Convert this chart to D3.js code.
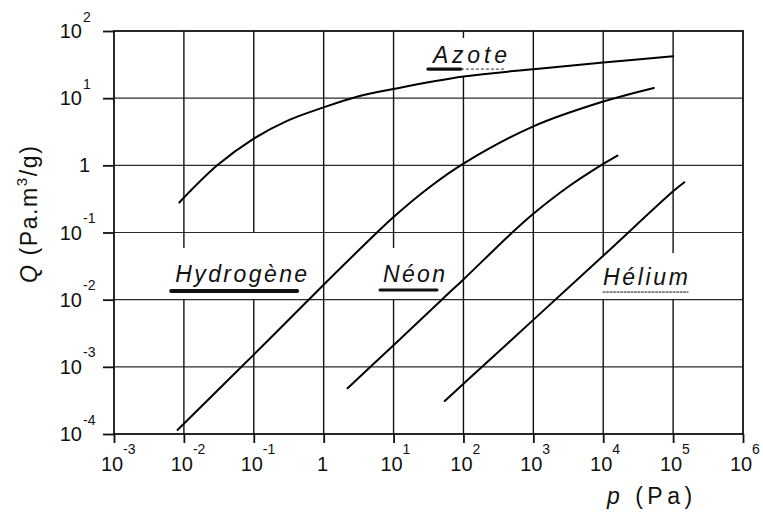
<!DOCTYPE html>
<html>
<head>
<meta charset="utf-8">
<script src="https://cdn.jsdelivr.net/npm/d3@7"></script>
<style>
  body { margin: 0; background: #fff; }
  svg { display: block; font-family: "Liberation Sans", Arial, sans-serif; }
</style>
</head>
<body>
<svg id="chart" width="763" height="516"></svg>
<script>
// decades shown on each axis (exponents of 10)
const xTickExp = [-3, -2, -1, 0, 1, 2, 3, 4, 5, 6];
const yTickExp = [-4, -3, -2, -1, 0, 1, 2];

const azoteP = [0.0086, 0.03, 0.1, 0.3, 1, 3, 10, 100, 1000, 1e4, 1e5];
const azoteQ = [0.28, 1.0, 2.5, 4.6, 7.3, 10.5, 13.7, 21, 27, 34, 42];

const hydrogeneP = [0.0081, 0.1, 1, 5.8, 10, 31.6, 100, 1000, 1e4, 5.3e4];
const hydrogeneQ = [1.15e-4, 1.52e-3, 0.0167, 0.1, 0.17, 0.46, 1.06, 3.8, 8.9, 14.2];

const neonP = [2.2, 10, 49, 100, 500, 1000, 3162, 1e4, 1.6e4];
const neonQ = [4.8e-4, 2.1e-3, 0.01, 0.02, 0.1, 0.19, 0.48, 1.05, 1.4];

const heliumP = [54, 100, 1000, 1e4, 1e5, 1.45e5];
const heliumQ = [3.1e-4, 5.6e-4, 5.0e-3, 0.045, 0.41, 0.56];

// gas names and where they are written (p, Q of the text baseline start)
const labelNames = ["Azote", "Hydrogène", "Néon", "Hélium"];
const labelP = [36.6, 0.0075, 7.06, 9930];
const labelQ = [33.3, 0.0183, 0.0183, 0.0165];

// the vertical grid lines are cut where the names sit : [p, Qlow, Qhigh]
const gridBreaks = [
  [1e-2, 1e-2, 0.0588],
  [1e-1, 1e-2, 1e-1],
  [1e1, 1e-2, 0.0588],
  [1e2, 21.4, 78.7],
  [1e4, 1e-2, 0.043],
  [1e5, 1e-2, 0.0495]
];

const width = 763;
const height = 516;
const plot = { left: 114, right: 743, top: 31, bottom: 434 };

const xTicks = xTickExp.map((e) => Math.pow(10, e));
const yTicks = yTickExp.map((e) => Math.pow(10, e));

const x = d3.scaleLog().domain([1e-3, 1e6]).range([plot.left, plot.right]);
const y = d3.scaleLog().domain([1e-4, 1e2]).range([plot.bottom, plot.top]);

const svg = d3.select('#chart');
svg.append('rect').attr('width', width).attr('height', height).attr('fill', '#fff');

// horizontal grid
svg.append('g')
  .selectAll('line')
  .data(yTicks.slice(1, -1))
  .join('line')
  .attr('x1', plot.left).attr('x2', plot.right)
  .attr('y1', (d) => y(d)).attr('y2', (d) => y(d))
  .attr('stroke', '#2a2a2a')
  .attr('stroke-width', 1.2);

// vertical grid, split in segments around the labels
const vSegments = [];
xTicks.slice(1, -1).forEach((p) => {
  const cuts = gridBreaks.filter((b) => b[0] === p);
  let top = y.domain()[1];
  cuts.sort((a, b) => b[2] - a[2]).forEach((b) => {
    vSegments.push([p, top, b[2]]);
    top = b[1];
  });
  vSegments.push([p, top, y.domain()[0]]);
});

svg.append('g')
  .selectAll('line')
  .data(vSegments)
  .join('line')
  .attr('x1', (d) => x(d[0])).attr('x2', (d) => x(d[0]))
  .attr('y1', (d) => y(d[1])).attr('y2', (d) => y(d[2]))
  .attr('stroke', '#111')
  .attr('stroke-width', 1.4);

// frame
svg.append('rect')
  .attr('x', plot.left).attr('y', plot.top)
  .attr('width', plot.right - plot.left)
  .attr('height', plot.bottom - plot.top)
  .attr('fill', 'none')
  .attr('stroke', '#111')
  .attr('stroke-width', 1.8);

// ticks only, labels are written by hand with superscripts
const xAxis = svg.append('g')
  .attr('transform', `translate(0,${plot.bottom})`)
  .call(d3.axisBottom(x).tickValues(xTicks).tickSize(9).tickSizeOuter(0).tickFormat(''));
const yAxis = svg.append('g')
  .attr('transform', `translate(${plot.left},0)`)
  .call(d3.axisLeft(y).tickValues(yTicks).tickSize(11).tickSizeOuter(0).tickFormat(''));
[xAxis, yAxis].forEach((g) => {
  g.select('.domain').remove();
  g.selectAll('.tick line').attr('stroke', '#111').attr('stroke-width', 1.8);
});

// x tick labels
const xLab = svg.append('g').attr('fill', '#111');
xTickExp.forEach((e, i) => {
  const px = x(xTicks[i]);
  if (e === 0) {
    xLab.append('text').attr('x', px - 1).attr('y', plot.bottom + 37)
      .attr('text-anchor', 'middle').attr('font-size', 20).text('1');
    return;
  }
  xLab.append('text').attr('x', px - 2).attr('y', plot.bottom + 37)
    .attr('text-anchor', 'middle').attr('font-size', 20).text('10');
  xLab.append('text').attr('x', px + 9).attr('y', plot.bottom + 20)
    .attr('font-size', 14).text(String(e));
});

// y tick labels
const yLab = svg.append('g').attr('fill', '#111');
yTickExp.forEach((e, i) => {
  const py = y(yTicks[i]);
  if (e === 0) {
    yLab.append('text').attr('x', 90).attr('y', py + 7)
      .attr('text-anchor', 'end').attr('font-size', 20).text('1');
    return;
  }
  yLab.append('text').attr('x', 82).attr('y', py + 7)
    .attr('text-anchor', 'end').attr('font-size', 20).text('10');
  yLab.append('text').attr('x', 83).attr('y', py - 9.5)
    .attr('font-size', 14).text(String(e));
});

// curves
const series = [
  { name: 'Azote', p: azoteP, q: azoteQ },
  { name: 'Hydrogène', p: hydrogeneP, q: hydrogeneQ },
  { name: 'Néon', p: neonP, q: neonQ },
  { name: 'Hélium', p: heliumP, q: heliumQ }
];
const line = d3.line()
  .x((d) => x(d[0]))
  .y((d) => y(d[1]))
  .curve(d3.curveCatmullRom.alpha(0.5));

svg.append('g')
  .selectAll('path')
  .data(series)
  .join('path')
  .attr('d', (s) => line(s.p.map((p, i) => [p, s.q[i]])))
  .attr('fill', 'none')
  .attr('stroke', '#000')
  .attr('stroke-width', 2)
  .attr('stroke-linecap', 'round');

// gas names, italic and spaced, with their inked underlines
const labelWidth = [74, 132, 62, 85];
const underline = [
  { dx0: -5, dx1: 28, dy: 6, w: 3.2, dash: null },
  { dx0: -4, dx1: 122, dy: 9, w: 4, dash: null },
  { dx0: -3, dx1: 54, dy: 8, w: 3, dash: null },
  { dx0: 0, dx1: 85, dy: 7, w: 1, dash: '2,1.5' }
];
const labels = svg.append('g').attr('fill', '#111');
labelNames.forEach((name, i) => {
  const lx = x(labelP[i]);
  const ly = y(labelQ[i]);
  labels.append('text')
    .attr('x', lx).attr('y', ly)
    .attr('font-size', 23)
    .attr('font-style', 'italic')
    .attr('textLength', labelWidth[i])
    .attr('lengthAdjust', 'spacing')
    .text(name);
  const u = underline[i];
  labels.append('line')
    .attr('x1', lx + u.dx0).attr('x2', lx + u.dx1)
    .attr('y1', ly + u.dy).attr('y2', ly + u.dy)
    .attr('stroke', '#111')
    .attr('stroke-width', u.w)
    .attr('stroke-linecap', 'round')
    .attr('stroke-dasharray', u.dash);
  if (i === 0) {
    // thinner tail of the Azote underline
    labels.append('line')
      .attr('x1', lx + 28).attr('x2', lx + 72)
      .attr('y1', ly + 6).attr('y2', ly + 6)
      .attr('stroke', '#333').attr('stroke-width', 1)
      .attr('stroke-dasharray', '3,2');
  }
});

// axis titles
const yTitle = svg.append('text')
  .attr('transform', 'translate(37,283) rotate(-90)')
  .attr('font-size', 23)
  .attr('letter-spacing', 1.6)
  .attr('fill', '#111');
yTitle.append('tspan').attr('font-style', 'italic').text('Q');
yTitle.append('tspan').text(' (Pa.m');
yTitle.append('tspan').attr('font-size', 15).attr('dy', -10).text('3');
yTitle.append('tspan').attr('dy', 10).text('/g)');

const xTitle = svg.append('text')
  .attr('x', 607).attr('y', 504)
  .attr('font-size', 23)
  .attr('letter-spacing', 4.5)
  .attr('fill', '#111');
xTitle.append('tspan').attr('font-style', 'italic').text('p');
xTitle.append('tspan').text(' (Pa)');
</script>
</body>
</html>
